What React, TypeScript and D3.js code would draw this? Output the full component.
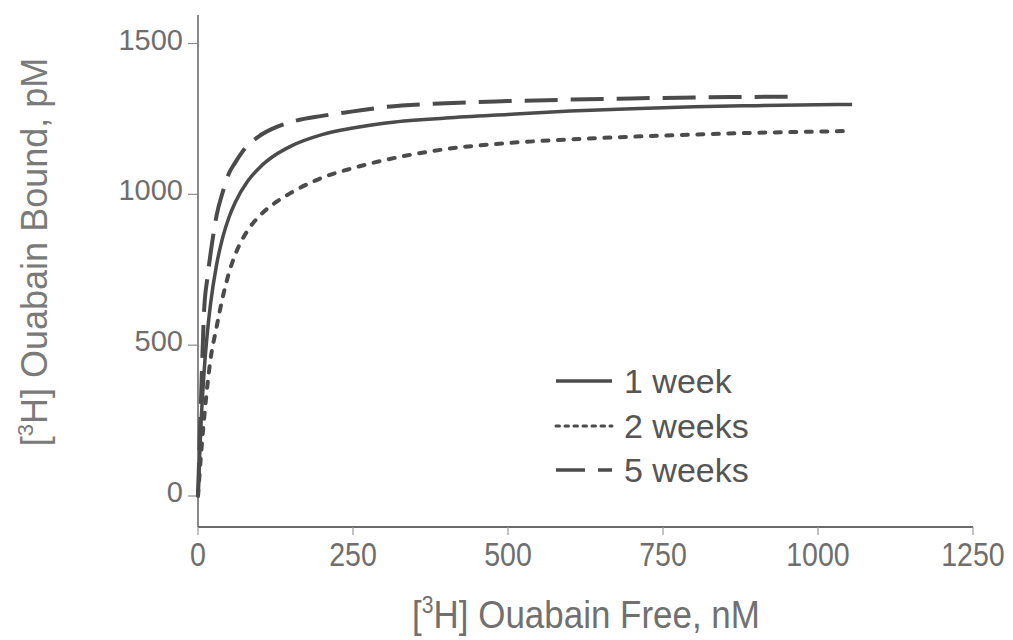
import React from 'react';
import * as d3 from 'd3';

// values: free ouabain (nM) vs bound (pM)
const week1Free = [0, 5, 10, 15, 20, 30, 40, 50, 60, 80, 100, 125, 150, 200, 250, 300, 400, 500, 600, 700, 800, 900, 1000, 1055];
const week1Bound = [0, 246, 416, 539, 633, 767, 858, 924, 973, 1043, 1090, 1131, 1160, 1198, 1220, 1236, 1253, 1265, 1276, 1284, 1290, 1294, 1297, 1298];

const week2Free = [0, 5, 10, 20, 30, 40, 50, 60, 80, 100, 125, 150, 200, 250, 300, 400, 500, 600, 700, 800, 900, 1000, 1050];
const week2Bound = [0, 140, 260, 450, 560, 660, 740, 800, 880, 930, 973, 1005, 1055, 1087, 1113, 1150, 1170, 1182, 1191, 1198, 1204, 1208, 1210];

const week5Free = [0, 5, 10, 15, 20, 25, 30, 40, 50, 60, 75, 100, 125, 150, 200, 250, 300, 400, 500, 600, 700, 800, 900, 963];
const week5Bound = [0, 330, 620, 720, 800, 870, 930, 1008, 1070, 1105, 1150, 1195, 1222, 1240, 1260, 1275, 1289, 1302, 1309, 1314, 1318, 1321, 1323, 1324];

const seriesNames = ['1 week', '2 weeks', '5 weeks'];
const xTicks = [0, 250, 500, 750, 1000, 1250];
const yTicks = [0, 500, 1000, 1500];

const W = 1013;
const H = 640;
const ink = '#4b4b4b';
const font = '"Liberation Sans", Arial, sans-serif';

const styles = [
  { dash: null, cap: 'butt', width: 3.5, legendDash: null },
  { dash: '6 9.5', cap: 'round', width: 4, legendDash: '3.5 5.5' },
  { dash: '33 13', cap: 'butt', width: 4, legendDash: '29 13' }
];

export default function App() {
  const x = d3.scaleLinear().domain([0, 1250]).range([198, 973]);
  const y = d3.scaleLinear().domain([0, 1500]).range([496, 43.5]);
  const yTop = y.invert(15);
  const yBottom = y.invert(527);

  const series = [
    d3.zip(week1Free, week1Bound),
    d3.zip(week2Free, week2Bound),
    d3.zip(week5Free, week5Bound)
  ];

  const line = d3.line<number[]>()
    .x(d => x(d[0]))
    .y(d => y(d[1]))
    .curve(d3.curveMonotoneX);

  const legendX = 556;
  const legendY = [381, 426, 470];

  return (
    <svg width={W} height={H} style={{ position: 'absolute', left: 0, top: 0, background: '#fff' }}
      fontFamily={font}>
      {/* axes */}
      <line x1={x(0)} x2={x(0)} y1={y(yTop)} y2={y(yBottom)} stroke="#6a6a6a" strokeWidth={1.6} />
      <line x1={x(0)} x2={x(1250)} y1={y(yBottom)} y2={y(yBottom)} stroke="#6a6a6a" strokeWidth={2} />

      {yTicks.map(t => (
        <g key={'y' + t}>
          <line x1={x(0) - 10} x2={x(0)} y1={y(t)} y2={y(t)} stroke="#8a8a8a" strokeWidth={1.2} />
          <text x={183} y={y(t) + 6} textAnchor="end" fontSize={29} fill="#6e6e6e">{t}</text>
        </g>
      ))}

      {xTicks.map(t => (
        <g key={'x' + t}>
          <line x1={x(t)} x2={x(t)} y1={y(yBottom)} y2={y(yBottom) + 8} stroke="#9a9a9a" strokeWidth={1.2} />
          <text transform={`translate(${x(t)},566) scale(0.84,1)`} textAnchor="middle" fontSize={34}
            fill="#6e6e6e">{t}</text>
        </g>
      ))}

      {/* axis titles */}
      <text transform="translate(586,628) scale(0.92,1)" textAnchor="middle" fontSize={38} fill="#707070">
        [<tspan fontSize={23} dy={-15}>3</tspan><tspan dy={15}>H] Ouabain Free, nM</tspan>
      </text>
      <text transform="translate(47,252) rotate(-90)" textAnchor="middle" fontSize={36} fill="#7a7a7a">
        [<tspan fontSize={22} dy={-14}>3</tspan><tspan dy={14}>H] Ouabain Bound, pM</tspan>
      </text>

      {/* curves */}
      {series.map((pts, i) => (
        <path key={seriesNames[i]} d={line(pts) || ''} fill="none" stroke={ink}
          strokeWidth={styles[i].width} strokeLinecap={styles[i].cap as any}
          strokeDasharray={styles[i].dash || undefined} />
      ))}

      {/* legend */}
      {seriesNames.map((name, i) => (
        <g key={'leg' + name}>
          <line x1={legendX} x2={legendX + 56} y1={legendY[i]} y2={legendY[i]} stroke={ink}
            strokeWidth={i === 1 ? 3 : 3.5} strokeLinecap={i === 1 ? 'round' : 'butt'}
            strokeDasharray={styles[i].legendDash || undefined} />
          <text x={legendX + 68} y={legendY[i] + 12} fontSize={34} fill="#555">{name}</text>
        </g>
      ))}
    </svg>
  );
}
